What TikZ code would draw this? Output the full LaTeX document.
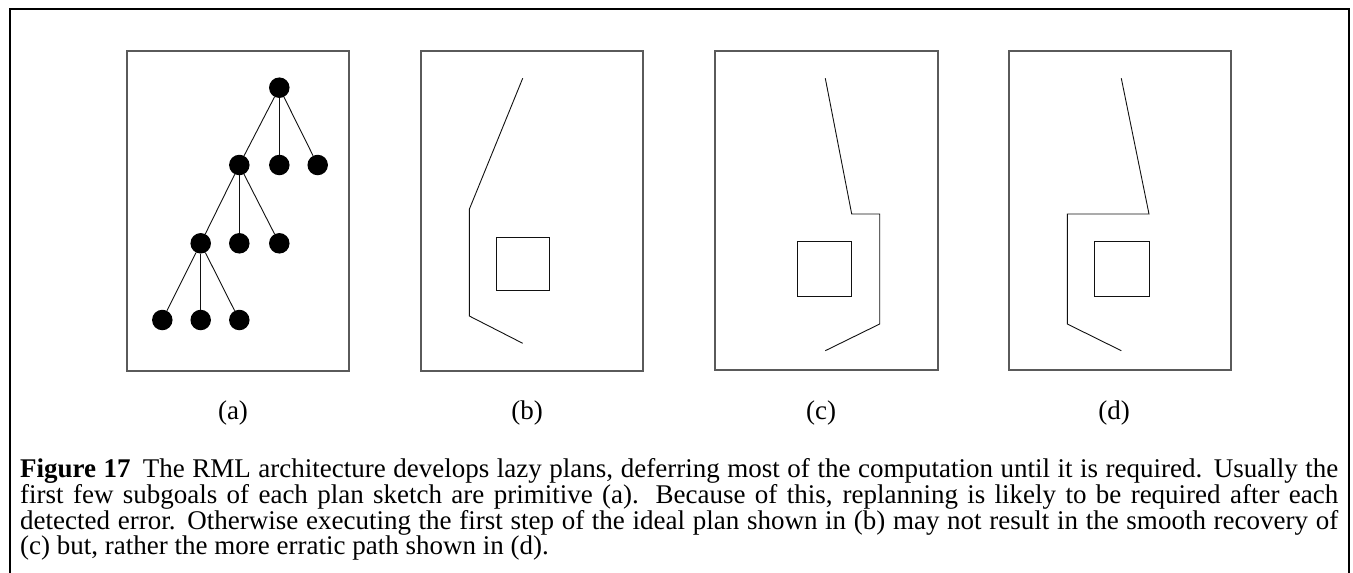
\documentclass[tikz,border=0pt]{standalone}
\usepackage{fontspec}
\setmainfont{Liberation Serif}
\usetikzlibrary{positioning}
\definecolor{cBox}{HTML}{5A5A5A}
\definecolor{cLine}{HTML}{111111}
\tikzset{
  frm/.style   = {draw=black, line width=2.4pt},
  pbox/.style  = {draw=cBox, line width=1.1pt},
  plan/.style  = {draw=cLine, line width=0.9pt},
  obst/.style  = {draw=cLine, line width=0.9pt},
  dot/.style   = {circle, fill=black, minimum size=20.5pt, inner sep=0pt},
  edge/.style  = {draw=cLine, line width=0.9pt},
  sublab/.style = {font=\fontsize{27}{27}\selectfont, inner sep=0pt},
  capt/.style  = {font=\fontsize{27}{23.3}\selectfont, align=justify,
                  text width=1318pt, inner sep=0pt, anchor=north west},
}

\begin{document}
\begin{tikzpicture}[x=1pt, y=-1pt]
  \useasboundingbox (0,0) rectangle (1353,573);
  % outer frame, cut off at the bottom
  \draw[frm] (10,573) -- (10,9) -- (1349,9) -- (1349,573);

  % (a) the plan tree
  \draw[pbox] (127,51) rectangle (349,371);
  \node[dot] (r)   at (279.3,87.7) {};
  \node[dot] (n1)  at (239.3,165) {};
  \node[dot] (n2)  at (279.3,165) {};
  \node[dot] (n3)  at (317.7,165) {};
  \node[dot] (m1)  at (200.7,243.3) {};
  \node[dot] (m2)  at (239.3,243.3) {};
  \node[dot] (m3)  at (279.3,243.3) {};
  \node[dot] (l1)  at (162.3,320) {};
  \node[dot] (l2)  at (200.7,320) {};
  \node[dot] (l3)  at (239.3,320) {};
  \foreach \a/\b in {r/n1, r/n2, r/n3, n1/m1, n1/m2, n1/m3, m1/l1, m1/l2, m1/l3}
    \draw[edge] (\a) -- (\b);

  % (b) ideal plan
  \draw[pbox] (421,51) rectangle (643,371);
  \draw[obst] (496,237) rectangle (549.3,290);
  \draw[plan] (522.7,78.3) -- (469.3,209.3) -- (469.3,316) -- (522.7,343.3);

  % (c) smooth recovery
  \draw[pbox] (715,51) rectangle (938,370);
  \draw[obst] (797.3,241.7) rectangle (851.7,296);
  \draw[plan] (825.3,78.3) -- (851.7,214) -- (879.7,214) -- (879.7,324) -- (825.3,350.7);

  % (d) erratic path
  \draw[pbox] (1009,51) rectangle (1231,370);
  \draw[obst] (1094,241.7) rectangle (1149,296);
  \draw[plan] (1121.3,78.3) -- (1149,214) -- (1067.3,214) -- (1067.3,324) -- (1121.3,350.7);

  \node[sublab] (la) at (233,413) {(a)};
  \node[sublab] (lb) at (527,413) {(b)};
  \node[sublab] (lc) at (821,413) {(c)};
  \node[sublab] (ld) at (1114,413) {(d)};

  \node[capt] (cap) at (20,458) {\textbf{Figure 17}\hspace{0.45em}The RML architecture develops lazy plans, deferring most of the computation until it is required.  Usually the\linebreak
    first few subgoals of each plan sketch are primitive (a).  Because of this, replanning is likely to be required after each\linebreak
    detected error.  Otherwise executing the first step of the ideal plan shown in (b) may not result in the smooth recovery of\linebreak
    (c) but, rather the more erratic path shown in (d).};
\end{tikzpicture}
\end{document}
